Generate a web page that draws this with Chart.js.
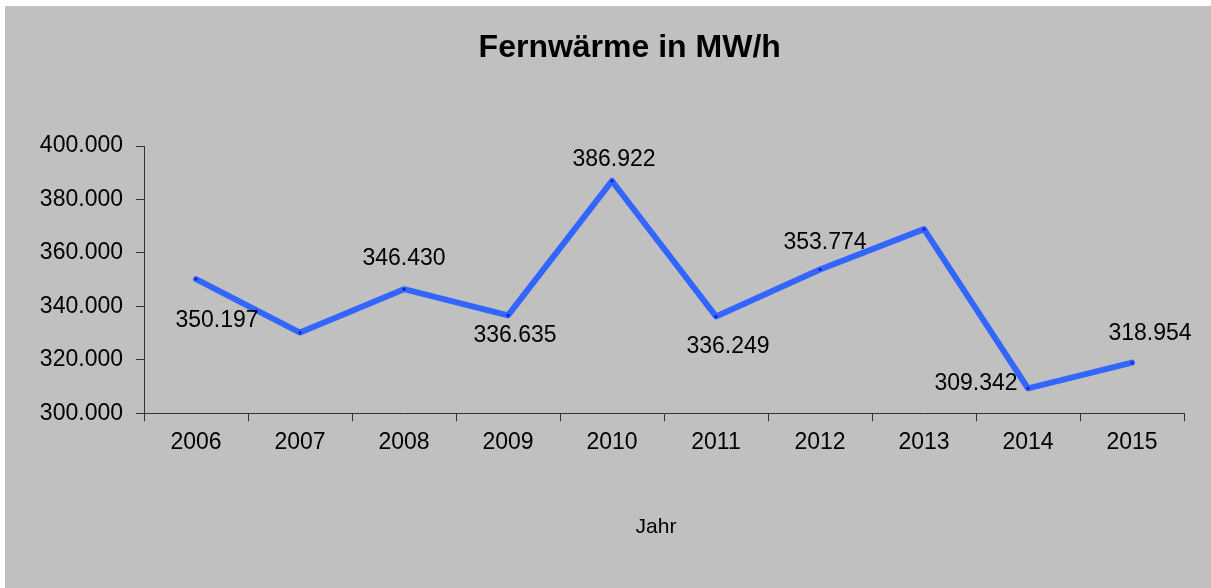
<!DOCTYPE html>
<html>
<head>
<meta charset="utf-8">
<script src="https://cdn.jsdelivr.net/npm/chart.js@4/dist/chart.umd.min.js"></script>
<style>
  html, body { margin: 0; padding: 0; background: #ffffff; width: 1211px; height: 588px; overflow: hidden; }
  #wrap { position: absolute; left: 5px; top: 6px; width: 1206px; height: 582px; background: #C0C0C0; }
  canvas { display: block; }
</style>
</head>
<body>
<div id="wrap"><canvas id="c"></canvas></div>
<script>
// ---- data ----
const years = ['2006', '2007', '2008', '2009', '2010', '2011', '2012', '2013', '2014', '2015'];
const fernwaerme = [350197, 330200, 346430, 336635, 386922, 336249, 353774, 368900, 309342, 318954];
const showLabel = [true, false, true, true, true, true, true, false, true, true];
const yMin = 300000;
const yMax = 400000;
const yStep = 20000;
const chartTitle = 'Fernwärme in MW/h';
const xTitle = 'Jahr';

// label placement relative to each point (style, not data)
const labelOffsets = [[21, 42], null, [0, -31], [7, 20], [2, -21], [12, 30], [5, -27], null, [-52, -5], [18, -29]];

const FONT = '"Liberation Sans", Arial, Helvetica, sans-serif';
const fmt = v => Number(v).toLocaleString('de-DE');

const textPlugin = {
  id: 'textPlugin',
  afterDraw(chart) {
    const ctx = chart.ctx;
    const meta = chart.getDatasetMeta(0);
    ctx.save();
    ctx.fillStyle = '#000000';
    ctx.textAlign = 'center';
    ctx.textBaseline = 'middle';
    // data labels
    ctx.font = '23px ' + FONT;
    meta.data.forEach((pt, i) => {
      if (!showLabel[i] || !labelOffsets[i]) return;
      const [dx, dy] = labelOffsets[i];
      ctx.fillText(fmt(fernwaerme[i]), pt.x + dx, pt.y + dy);
    });
    // chart title
    ctx.font = 'bold 32px ' + FONT;
    ctx.fillText(chartTitle, chart.width * 0.518, 42);
    // x axis title
    ctx.font = '21px ' + FONT;
    ctx.fillText(xTitle, chart.width * 0.5398, 521);
    ctx.restore();
  }
};

new Chart(document.getElementById('c'), {
  type: 'line',
  data: {
    labels: years,
    datasets: [{
      data: fernwaerme,
      borderColor: '#3366FF',
      borderWidth: 6,
      borderCapStyle: 'round',
      borderJoinStyle: 'round',
      tension: 0,
      pointRadius: 1.5,
      pointHoverRadius: 1.5,
      pointBackgroundColor: '#0a1fd0',
      pointBorderWidth: 0,
      fill: false
    }]
  },
  options: {
    responsive: true,
    maintainAspectRatio: false,
    animation: false,
    events: [],
    layout: { padding: { left: 0, right: 27, top: 140, bottom: 0 } },
    plugins: {
      legend: { display: false },
      tooltip: { enabled: false },
      title: { display: false }
    },
    scales: {
      x: {
        type: 'category',
        offset: true,
        grid: { display: true, offset: true, drawOnChartArea: false, drawTicks: true, tickLength: 8, color: '#333333', lineWidth: 1 },
        border: { display: true, color: '#333333', width: 1 },
        ticks: { color: '#000000', padding: 8, maxRotation: 0, autoSkip: false, font: { family: FONT, size: 23 } },
        title: { display: false },
        afterFit(scale) { scale.height = 174.7; }
      },
      y: {
        min: yMin,
        max: yMax,
        grid: { display: true, drawOnChartArea: false, drawTicks: true, tickLength: 8, color: '#333333', lineWidth: 1 },
        border: { display: true, color: '#333333', width: 1 },
        ticks: { stepSize: yStep, color: '#000000', padding: 13, font: { family: FONT, size: 23 }, callback: v => fmt(v) },
        afterFit(scale) { scale.width = 139; }
      }
    }
  },
  plugins: [textPlugin]
});
</script>
</body>
</html>
